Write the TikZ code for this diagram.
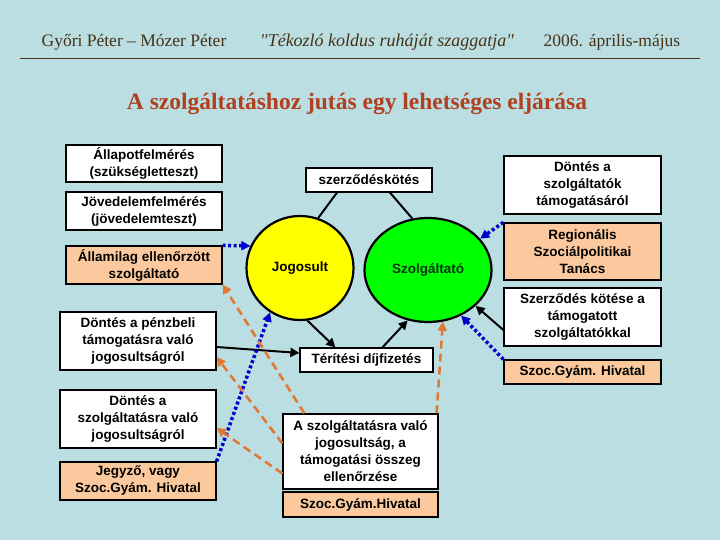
\documentclass[tikz,border=0pt]{standalone}
\usepackage{fontspec}
\setmainfont{Liberation Sans}
\newfontfamily\fejfont{Liberation Serif}
\usetikzlibrary{shapes.geometric,arrows.meta,calc}

\definecolor{hatter}{RGB}{187,222,227}
\definecolor{barack}{RGB}{251,201,157}
\definecolor{sarga}{RGB}{255,255,0}
\definecolor{zold}{RGB}{0,255,0}
\definecolor{kek}{RGB}{0,0,205}
\definecolor{narancs}{RGB}{226,118,50}
\definecolor{barna}{RGB}{70,50,20}
\definecolor{teglavoros}{RGB}{176,64,30}

\tikzset{
  doboz/.style={draw, fill=white, line width=1.2pt, align=center, inner sep=1pt,
    font=\bfseries\fontsize{13.5}{17}\selectfont},
  hivdoboz/.style={doboz, fill=barack},
  kor/.style={draw, ellipse, line width=2.2pt, inner sep=0pt,
    font=\bfseries\fontsize{13.5}{17}\selectfont},
  fekete/.style={->, line width=2pt},
  kekpont/.style={->, kek, line width=3.5pt, dash pattern=on 3pt off 2.5pt},
  narszag/.style={->, narancs, line width=2.5pt, dash pattern=on 8pt off 5pt},
}

\begin{document}
\begin{tikzpicture}[x=1pt, y=-1pt, >={Triangle[length=9pt,width=9pt]}]
  \useasboundingbox (0,0) rectangle (720,540);
  \fill[hatter] (0,0) rectangle (720,540);

  % Fejléc
  \node[barna, font=\fejfont\fontsize{17.5}{20}\selectfont] (szerzok) at (134,42) {Győri Péter – Mózer Péter};
  \node[barna, font=\fejfont\itshape\fontsize{18}{20}\selectfont] (idezet) at (387,42) {"Tékozló koldus ruháját szaggatja"};
  \node[barna, font=\fejfont\fontsize{17.5}{20}\selectfont] (datum) at (612,42) {2006. április-május};
  \draw[barna, line width=1pt] (20,59) -- (700,59);
  \node[teglavoros, font=\fejfont\bfseries\fontsize{23.5}{26}\selectfont] (cim) at (357,104) {A szolgáltatáshoz jutás egy lehetséges eljárása};

  % Bal oszlop
  \node[doboz, minimum width=156, minimum height=37] (allapot) at (144,163.5) {Állapotfelmérés\\(szükségletteszt)};
  \node[doboz, minimum width=156, minimum height=38] (jovedelem) at (144,211) {Jövedelemfelmérés\\(jövedelemteszt)};
  \node[hivdoboz, minimum width=156, minimum height=38] (allam) at (144,265) {Államilag ellenőrzött\\szolgáltató};
  \node[doboz, minimum width=156, minimum height=58] (penzbeli) at (138,341) {Döntés a pénzbeli\\támogatásra való\\jogosultságról};
  \node[doboz, minimum width=156, minimum height=58] (szolgdont) at (138,419) {Döntés a\\szolgáltatásra való\\jogosultságról};
  \node[hivdoboz, minimum width=156, minimum height=38] (jegyzo) at (138,481) {Jegyző, vagy\\Szoc.Gyám. Hivatal};

  % Középső rész
  \node[doboz, minimum width=126, minimum height=24] (szerz) at (369,180) {szerződéskötés};
  \node[kor, fill=sarga, minimum width=107, minimum height=104] (jogosult) at (300,268) {Jogosult};
  \node[kor, fill=zold, text={rgb,255:red,10;green,50;blue,10}, minimum width=127, minimum height=104] (szolg) at (428,270) {Szolgáltató};
  \node[doboz, minimum width=133, minimum height=24] (terites) at (366.5,360) {Térítési díjfizetés};
  \node[doboz, minimum width=155, minimum height=75] (ellen) at (360.5,451.5) {A szolgáltatásra való\\jogosultság, a\\támogatási összeg\\ellenőrzése};
  \node[hivdoboz, minimum width=155, minimum height=25] (hivatal) at (360.5,504.5) {Szoc.Gyám.Hivatal};

  % Jobb oszlop
  \node[doboz, minimum width=157, minimum height=58] (dontes) at (582.5,185) {Döntés a\\szolgáltatók\\támogatásáról};
  \node[hivdoboz, minimum width=157, minimum height=57] (regio) at (582.5,251.5) {Regionális\\Szociálpolitikai\\Tanács};
  \node[doboz, minimum width=157, minimum height=58] (szerzkot) at (582.5,317) {Szerződés kötése a\\támogatott\\szolgáltatókkal};
  \node[hivdoboz, minimum width=157, minimum height=24] (hivatal2) at (582.5,372) {Szoc.Gyám. Hivatal};

  % Fekete vonalak
  \draw[line width=2pt] ($(szerz.south)+(-32,0)$) -- (jogosult.70);
  \draw[line width=2pt] ($(szerz.south)+(21,0)$) -- (szolg.107);
  \draw[fekete] ($(penzbeli.east)+(0,6)$) -- ($(terites.west)+(0,-7)$);
  \draw[fekete] (jogosult.-82) -- ($(terites.north west)+(36,0)$);
  \draw[fekete] ($(terites.north west)+(83,0)$) -- (szolg.248);
  \draw[fekete] ($(szerzkot.west)+(0,13)$) -- (szolg.-37);

  % Kék pontozott nyilak
  \draw[kekpont] (allam.north east) -- (jogosult.156);
  \draw[kekpont] (jegyzo.north east) -- (jogosult.236);
  \draw[kekpont] (regio.north west) -- (szolg.31);
  \draw[kekpont] (hivatal2.north west) -- (szolg.-54);

  % Narancs szaggatott nyilak
  \draw[narszag] ($(ellen.north west)+(22,0)$) -- (allam.south east);
  \draw[narszag] ($(ellen.west)+(0,-8)$) -- ($(penzbeli.east)+(0,16)$);
  \draw[narszag] ($(ellen.west)+(0,22)$) -- ($(szolgdont.east)+(0,9)$);
  \draw[narszag] ($(ellen.north east)+(-2,0)$) -- (szolg.-74);
\end{tikzpicture}
\end{document}
